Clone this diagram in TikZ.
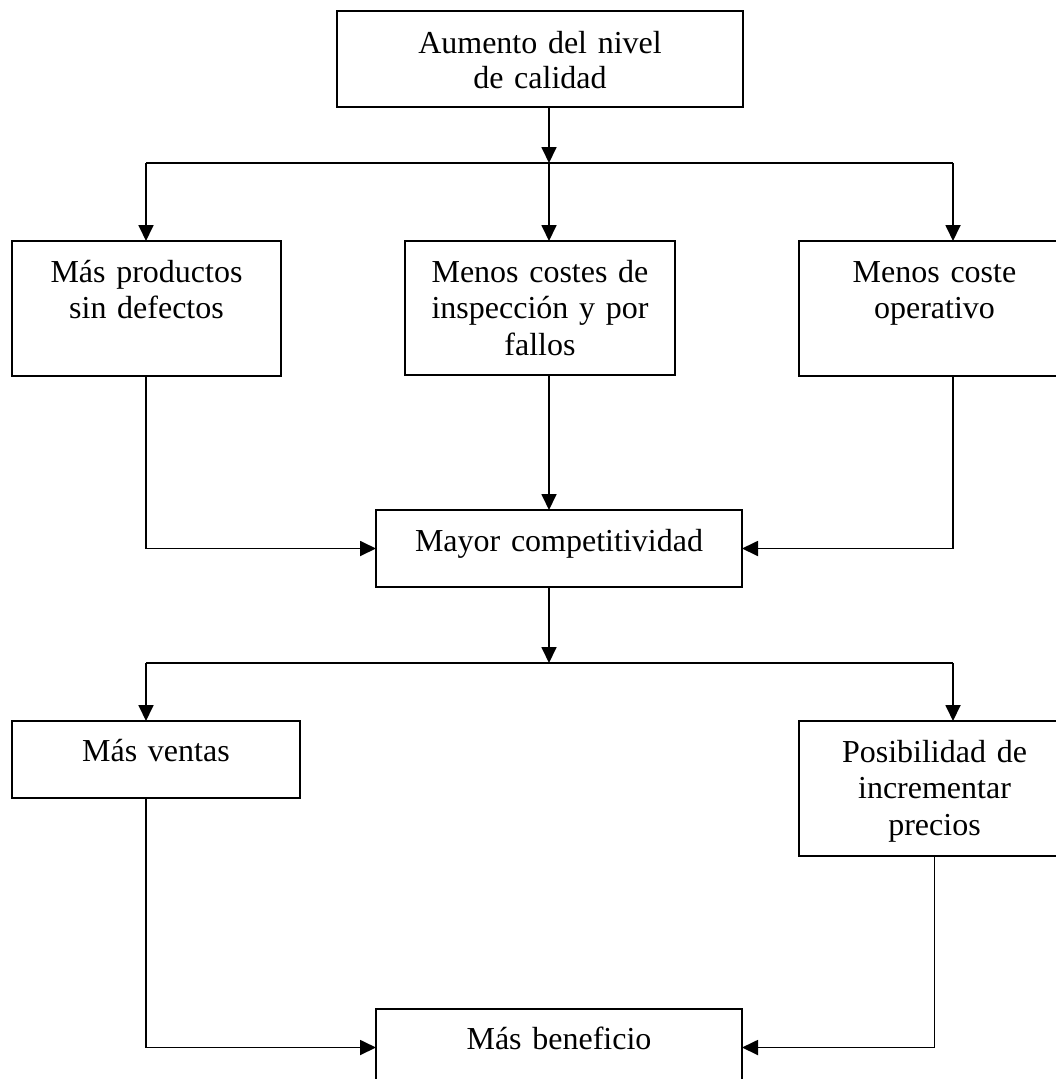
\documentclass[tikz,border=0pt]{standalone}
\usepackage{fontspec}
\setmainfont{Liberation Serif}
\usetikzlibrary{arrows.meta}
\begin{document}
\begin{tikzpicture}[x=1pt,y=-1pt,
  box/.style={draw, line width=1.8pt, inner sep=0pt, outer sep=0pt},
  lbl/.style={inner sep=0pt, align=center, anchor=base, font=\fontsize{32}{36.7}\selectfont},
  arr/.style={line width=1.8pt, -{Triangle[length=16pt,width=15pt]}},
  conn/.style={line width=1.8pt}]
\fill[white] (0,0) rectangle (1056,1079);
\clip (0,0) rectangle (1056,1079);
% helper coordinates
\coordinate (lx) at (146,0);
\coordinate (cx) at (549,0);
\coordinate (rx) at (953,0);
\coordinate (bus1) at (549,163);
\coordinate (bus2) at (549,663);
% boxes
\node[box, minimum width=406pt, minimum height=96pt] (top) at (540,59) {};
\node[box, minimum width=269pt, minimum height=135pt] (b1) at (146.5,308.5) {};
\node[box, minimum width=270pt, minimum height=134pt] (b2) at (540,308) {};
\node[box, minimum width=271pt, minimum height=135pt] (b3) at (934.5,308.5) {};
\node[box, minimum width=366pt, minimum height=77pt] (mid) at (559,548.5) {};
\node[box, minimum width=288pt, minimum height=77pt] (b4) at (156,759.5) {};
\node[box, minimum width=271pt, minimum height=135pt] (b5) at (934.5,788.5) {};
\node[box, minimum width=366pt, minimum height=77pt] (bot) at (559,1047.5) {};
% labels
\node[lbl, text width=396pt, font=\fontsize{32}{35}\selectfont] (t0) at (540,53) {Aumento del nivel\\de calidad};
\node[lbl, text width=260pt] (t1) at (146.5,282) {Más productos\\sin defectos};
\node[lbl, text width=260pt] (t2) at (540,282) {Menos costes de\\inspección y por\\fallos};
\node[lbl, text width=260pt] (t3) at (934.5,282) {Menos coste\\operativo};
\node[lbl, text width=356pt] (tm) at (559,551) {Mayor competitividad};
\node[lbl, text width=278pt] (t4) at (156,761) {Más ventas};
\node[lbl, text width=260pt] (t5) at (934.5,762) {Posibilidad de\\incrementar\\precios};
\node[lbl, text width=356pt] (tb) at (559,1049) {Más beneficio};
% connectors
\draw[arr] (top.south -| cx) -- (bus1);
\draw[conn] (bus1 -| lx) -- (bus1 -| rx);
\draw[arr] (bus1 -| lx) -- (b1.north -| lx);
\draw[arr] (bus1) -- (b2.north -| cx);
\draw[arr] (bus1 -| rx) -- (b3.north -| rx);
\draw[arr] (b1.south -| lx) |- (mid.west);
\draw[arr] (b2.south -| cx) -- (mid.north -| cx);
\draw[arr] (b3.south -| rx) |- (mid.east);
\draw[arr] (mid.south -| cx) -- (bus2);
\draw[conn] (bus2 -| lx) -- (bus2 -| rx);
\draw[arr] (bus2 -| lx) -- (b4.north -| lx);
\draw[arr] (bus2 -| rx) -- (b5.north -| rx);
\draw[arr] (b4.south -| lx) |- (bot.west);
\draw[arr] (b5.south) |- (bot.east);
\end{tikzpicture}
\end{document}
